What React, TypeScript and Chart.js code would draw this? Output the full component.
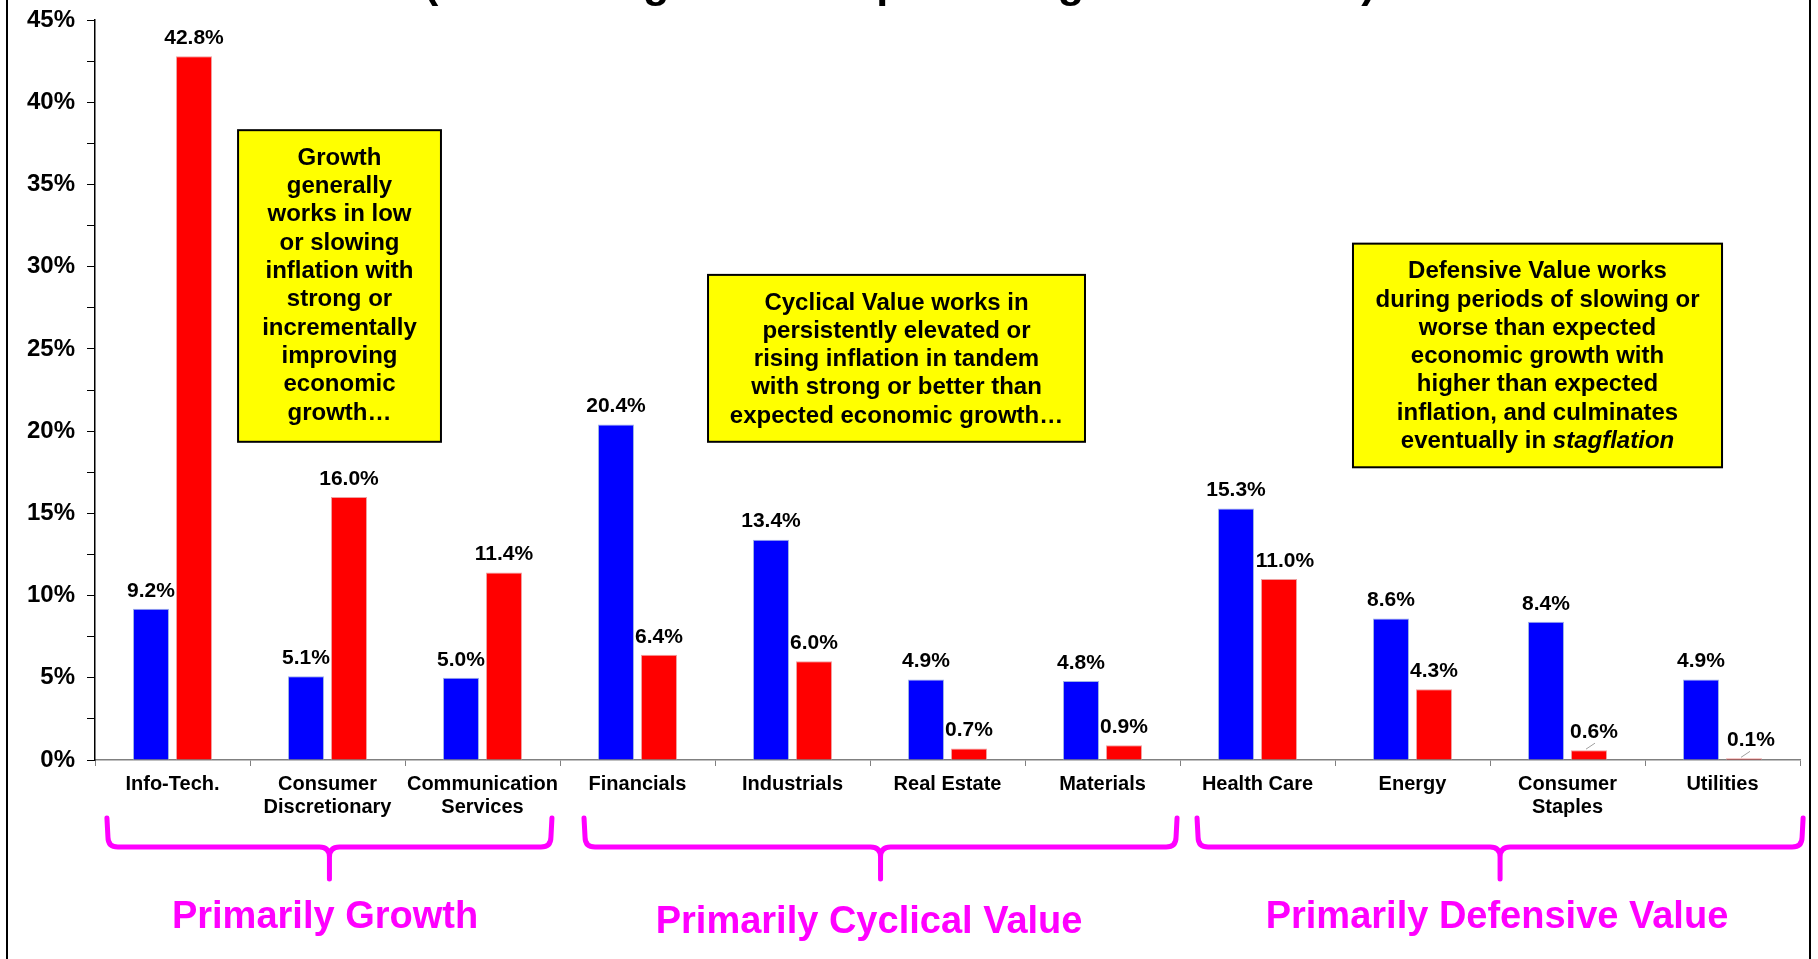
import React, { useEffect, useRef } from "react";
import { Chart, registerables } from "chart.js";

Chart.register(...registerables);

// ---------- data ----------
const categories: string[][] = [
  ["Info-Tech."],
  ["Consumer", "Discretionary"],
  ["Communication", "Services"],
  ["Financials"],
  ["Industrials"],
  ["Real Estate"],
  ["Materials"],
  ["Health Care"],
  ["Energy"],
  ["Consumer", "Staples"],
  ["Utilities"],
];
const blueValues = [9.2, 5.1, 5.0, 20.4, 13.4, 4.9, 4.8, 15.3, 8.6, 8.4, 4.9];
const redValues = [42.8, 16.0, 11.4, 6.4, 6.0, 0.7, 0.9, 11.0, 4.3, 0.6, 0.1];
const yMin = 0;
const yMax = 45;
const yLabelStep = 5;
const yMinorStep = 2.5;

const titleText = "(Stock Weights For Top Ranking Stocks Index)";
const groupLabels = ["Primarily Growth", "Primarily Cyclical Value", "Primarily Defensive Value"];
const growthNote = [
  "Growth",
  "generally",
  "works in low",
  "or slowing",
  "inflation with",
  "strong or",
  "incrementally",
  "improving",
  "economic",
  "growth\u2026",
];
const cyclicalNote = [
  "Cyclical Value works in",
  "persistently elevated or",
  "rising inflation in tandem",
  "with strong or better than",
  "expected economic growth\u2026",
];
const defensiveNote = [
  "Defensive Value works",
  "during periods of slowing or",
  "worse than expected",
  "economic growth with",
  "higher than expected",
  "inflation, and culminates",
  "eventually in |stagflation",
];

// ---------- layout / style (not data) ----------
const FONT = "'Liberation Sans', Arial, Helvetica, sans-serif";
const MAGENTA = "#FF00FF";

// label nudges (dataset index -> bar index)
const labelNudges: Record<number, Record<number, { dx: number; leader: boolean }>> = {
  1: { 7: { dx: 6, leader: false }, 9: { dx: 5, leader: true }, 10: { dx: 7, leader: true } },
};

// annotation boxes in data space (x: category index units, y: percent)
const noteBoxes = [
  { lines: growthNote, x0: 0.423, x1: 1.732, yTop: 38.3, yBot: 19.35 },
  { lines: cyclicalNote, x0: 3.455, x1: 5.887, yTop: 29.5, yBot: 19.35 },
  { lines: defensiveNote, x0: 7.616, x1: 9.997, yTop: 31.4, yBot: 17.8 },
];

// braces under the axis (x in category index units)
const braces = [
  { x0: -0.423, x1: 2.448, labelX: 0.984, labelDy: 158 },
  { x0: 2.655, x1: 6.481, labelX: 4.494, labelDy: 163 },
  { x0: 6.61, x1: 10.52, labelX: 8.545, labelDy: 158 },
];

const overlayPlugin = {
  id: "overlay",
  afterDatasetsDraw(chart: any) {
    const ctx = chart.ctx as CanvasRenderingContext2D;
    ctx.save();
    ctx.font = `bold 21px ${FONT}`;
    ctx.fillStyle = "#000";
    ctx.textAlign = "center";
    ctx.textBaseline = "middle";
    chart.data.datasets.forEach((ds: any, di: number) => {
      const meta = chart.getDatasetMeta(di);
      meta.data.forEach((bar: any, i: number) => {
        const v = ds.data[i] as number;
        const n = labelNudges[di]?.[i];
        const lx = bar.x + (n ? n.dx : 0);
        const ly = bar.y - 18;
        if (n && n.leader) {
          ctx.save();
          ctx.strokeStyle = "#a0a0a0";
          ctx.lineWidth = 1;
          ctx.beginPath();
          ctx.moveTo(bar.x - 3, bar.y - 1);
          ctx.lineTo(bar.x + 6, bar.y - 7);
          ctx.stroke();
          ctx.restore();
        }
        ctx.fillText(v.toFixed(1) + "%", lx, ly);
      });
    });
    ctx.restore();
  },
  afterDraw(chart: any) {
    const ctx = chart.ctx as CanvasRenderingContext2D;
    const xs = chart.scales.x;
    const ys = chart.scales.y;
    const area = chart.chartArea;
    ctx.save();

    // outer frame (left and right edges visible)
    ctx.strokeStyle = "#000";
    ctx.lineWidth = 2;
    ctx.beginPath();
    ctx.moveTo(7, 0);
    ctx.lineTo(7, chart.height);
    ctx.moveTo(1810, 0);
    ctx.lineTo(1810, chart.height);
    ctx.stroke();

    // title (cut off at the top of the picture)
    ctx.fillStyle = "#000";
    ctx.font = `bold 43px ${FONT}`;
    ctx.textAlign = "left";
    ctx.textBaseline = "alphabetic";
    ctx.fillText(titleText, 424, -3);

    // annotation boxes
    noteBoxes.forEach((b) => {
      const l = xs.getPixelForValue(b.x0);
      const r = xs.getPixelForValue(b.x1);
      const t = ys.getPixelForValue(b.yTop);
      const bt = ys.getPixelForValue(b.yBot);
      ctx.fillStyle = "#FFFF00";
      ctx.fillRect(l, t, r - l, bt - t);
      ctx.strokeStyle = "#000";
      ctx.lineWidth = 2;
      ctx.strokeRect(l, t, r - l, bt - t);
      const cx = (l + r) / 2;
      ctx.fillStyle = "#000";
      ctx.textBaseline = "middle";
      b.lines.forEach((line, k) => {
        const y = t + 28 + k * 28.3;
        const parts = line.split("|");
        if (parts.length === 1) {
          ctx.font = `bold 24px ${FONT}`;
          ctx.textAlign = "center";
          ctx.fillText(line, cx, y);
        } else {
          ctx.font = `bold 24px ${FONT}`;
          const w1 = ctx.measureText(parts[0]).width;
          ctx.font = `italic bold 24px ${FONT}`;
          const w2 = ctx.measureText(parts[1]).width;
          const start = cx - (w1 + w2) / 2;
          ctx.textAlign = "left";
          ctx.font = `bold 24px ${FONT}`;
          ctx.fillText(parts[0], start, y);
          ctx.font = `italic bold 24px ${FONT}`;
          ctx.fillText(parts[1], start + w1, y);
        }
      });
    });

    // braces and group labels
    const base = area.bottom;
    braces.forEach((br, k) => {
      const L = xs.getPixelForValue(br.x0);
      const R = xs.getPixelForValue(br.x1);
      const C = (L + R) / 2;
      const top = base + 58;
      const mid = base + 87;
      const bottom = base + 119;
      const rr = 10;
      ctx.strokeStyle = MAGENTA;
      ctx.lineWidth = 5;
      ctx.lineCap = "round";
      ctx.lineJoin = "round";
      ctx.beginPath();
      ctx.moveTo(L, top);
      ctx.lineTo(L + 1, mid - rr);
      ctx.quadraticCurveTo(L + 1, mid, L + rr + 1, mid);
      ctx.lineTo(C - rr, mid);
      ctx.quadraticCurveTo(C, mid, C, mid + rr);
      ctx.lineTo(C, bottom);
      ctx.moveTo(C, mid + rr);
      ctx.quadraticCurveTo(C, mid, C + rr, mid);
      ctx.lineTo(R - rr - 1, mid);
      ctx.quadraticCurveTo(R - 1, mid, R - 1, mid - rr);
      ctx.lineTo(R, top);
      ctx.stroke();

      ctx.fillStyle = MAGENTA;
      ctx.font = `bold 38px ${FONT}`;
      ctx.textAlign = "center";
      ctx.textBaseline = "middle";
      ctx.fillText(groupLabels[k], xs.getPixelForValue(br.labelX), base + br.labelDy);
    });

    ctx.restore();
  },
};

export default function App() {
  const canvasRef = useRef<HTMLCanvasElement | null>(null);

  useEffect(() => {
    const canvas = canvasRef.current;
    if (!canvas) return;
    const chart = new Chart(canvas, {
      type: "bar",
      data: {
        labels: categories,
        datasets: [
          {
            label: "Blue series",
            data: blueValues,
            backgroundColor: "#0000FF",
            borderColor: "#9FB3E6",
            borderWidth: 1,
            barPercentage: 0.837,
            categoryPercentage: 0.555,
          },
          {
            label: "Red series",
            data: redValues,
            backgroundColor: "#FF0000",
            borderColor: "#F0A0A0",
            borderWidth: 1,
            barPercentage: 0.837,
            categoryPercentage: 0.555,
          },
        ],
      },
      options: {
        responsive: false,
        animation: false,
        devicePixelRatio: 1,
        layout: { padding: { left: 0, right: 18, top: 20, bottom: 0 } },
        plugins: {
          legend: { display: false },
          tooltip: { enabled: false },
          title: { display: false },
        },
        scales: {
          x: {
            grid: {
              display: true,
              drawOnChartArea: false,
              drawTicks: true,
              tickLength: 6,
              color: "#808080",
              offset: true,
            },
            border: { display: true, color: "#808080", width: 1.5 },
            ticks: {
              color: "#000",
              font: { family: FONT, size: 20, weight: "bold", lineHeight: 1.15 },
              padding: 7,
              maxRotation: 0,
              autoSkip: false,
            },
            afterFit: (s: any) => {
              s.height = 199;
            },
          },
          y: {
            min: yMin,
            max: yMax,
            ticks: {
              stepSize: yMinorStep,
              color: "#000",
              font: { family: FONT, size: 24, weight: "bold" },
              padding: 12,
              callback: (v: any) => (Number(v) % yLabelStep === 0 ? `${v}%` : ""),
            },
            grid: {
              drawOnChartArea: false,
              drawTicks: true,
              tickLength: 8,
              color: "#000",
            },
            border: { display: true, color: "#000", width: 1.5 },
            afterFit: (s: any) => {
              s.width = 95;
              s.paddingTop = 14;
              s.paddingBottom = 14;
            },
          },
        },
      },
      plugins: [overlayPlugin],
    } as any);
    return () => chart.destroy();
  }, []);

  return (
    <div
      style={{
        position: "absolute",
        left: 0,
        top: 0,
        width: 1818,
        height: 959,
        background: "#fff",
        overflow: "hidden",
      }}
    >
      <canvas ref={canvasRef} width={1818} height={959} style={{ display: "block" }} />
    </div>
  );
}
